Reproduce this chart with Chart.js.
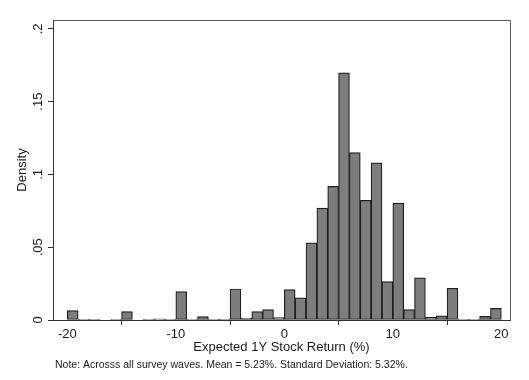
<!DOCTYPE html>
<html>
<head>
<meta charset="utf-8">
<script src="https://cdn.jsdelivr.net/npm/chart.js@4.4.1/dist/chart.umd.min.js"></script>
<style>
  html, body { margin: 0; padding: 0; background: #ffffff; }
  #wrap { width: 529px; height: 380px; position: relative; }
</style>
</head>
<body>
<div id="wrap"><canvas id="c"></canvas></div>
<script>
// ---- data ----
const binStarts = [-20,-19,-18,-17,-16,-15,-14,-13,-12,-11,-10,-9,-8,-7,-6,-5,-4,-3,-2,-1,
                   0,1,2,3,4,5,6,7,8,9,10,11,12,13,14,15,16,17,18,19];
const density = [0.0065,0.0004,0.0004,0,0.0004,0.0057,0,0.0004,0.0008,0.0004,
                 0.0195,0.0004,0.0023,0.0003,0.0006,0.0213,0.0014,0.0057,0.0071,0.0016,
                 0.0209,0.0152,0.0530,0.0769,0.0918,0.1698,0.1150,0.0822,0.1079,0.0264,
                 0.0803,0.0071,0.0289,0.0018,0.0028,0.0218,0.0004,0.0004,0.0025,0.0080];
const binWidth = 1;
const xTicks = [-20, -10, 0, 10, 20];
const yTicks = [0, 0.05, 0.1, 0.15, 0.2];
const yTickLabels = ['0', '.05', '.1', '.15', '.2'];
const xTitle = 'Expected 1Y Stock Return (%)';
const yTitle = 'Density';
const note = 'Note: Acrosss all survey waves. Mean = 5.23%. Standard Deviation: 5.32%.';

const FONT = '"Liberation Sans", Arial, Helvetica, sans-serif';

const framePlugin = {
  id: 'frame',
  afterDraw(chart) {
    const {ctx, chartArea: a, scales} = chart;
    ctx.save();
    // frame top & right
    ctx.strokeStyle = '#5a5a5a';
    ctx.lineWidth = 1;
    ctx.beginPath();
    ctx.moveTo(Math.round(a.left) + 0.5, Math.round(a.top) + 0.5);
    ctx.lineTo(Math.round(a.right) + 0.5, Math.round(a.top) + 0.5);
    ctx.lineTo(Math.round(a.right) + 0.5, Math.round(a.bottom) + 0.5);
    ctx.stroke();
    // rotated y tick labels
    const ys = scales.y;
    ctx.fillStyle = '#1a1a1a';
    ctx.font = '13px ' + FONT;
    ctx.textAlign = 'center';
    ctx.textBaseline = 'middle';
    yTicks.forEach((v, i) => {
      const py = ys.getPixelForValue(v);
      ctx.save();
      ctx.translate(38, py);
      ctx.rotate(-Math.PI / 2);
      ctx.fillText(yTickLabels[i], 0, 0);
      ctx.restore();
    });
    // note
    ctx.font = '10.5px ' + FONT;
    ctx.textAlign = 'left';
    ctx.textBaseline = 'alphabetic';
    ctx.fillStyle = '#1a1a1a';
    ctx.fillText(note, 55, 367.5);
    ctx.restore();
  }
};

new Chart(document.getElementById('c'), {
  type: 'bar',
  data: {
    datasets: [{
      data: binStarts.map((s, i) => ({ x: s + binWidth / 2, y: density[i] })),
      backgroundColor: '#7d7d7d',
      borderColor: '#1e1e1e',
      borderWidth: 1.2,
      borderSkipped: false,
      barPercentage: 1,
      categoryPercentage: 1
    }]
  },
  options: {
    responsive: true,
    maintainAspectRatio: false,
    animation: false,
    events: [],
    layout: { padding: { top: 20, right: 19, left: 0, bottom: 0 } },
    plugins: { legend: { display: false }, tooltip: { enabled: false } },
    scales: {
      x: {
        type: 'linear',
        min: -21.32,
        max: 20.8,
        offset: false,
        afterBuildTicks: s => { s.ticks = xTicks.map(v => ({ value: v })); },
        afterFit: s => { s.height = 60; },
        grid: { drawOnChartArea: false, drawTicks: true, tickLength: 5, color: '#333' },
        border: { display: true, color: '#333', width: 1 },
        ticks: {
          font: { size: 13, family: FONT },
          color: '#1a1a1a',
          padding: 2,
          maxRotation: 0,
          minRotation: 0,
          callback: v => String(v)
        },
        title: {
          display: true,
          text: xTitle,
          font: { size: 13, family: FONT },
          color: '#1a1a1a',
          padding: { top: 0, bottom: 25 }
        }
      },
      y: {
        min: 0,
        max: 0.2061,
        afterBuildTicks: s => { s.ticks = yTicks.map(v => ({ value: v })); },
        afterFit: s => { s.width = 53; },
        grid: { drawOnChartArea: false, drawTicks: true, tickLength: 5, color: '#333' },
        border: { display: true, color: '#333', width: 1 },
        ticks: { display: false },
        title: {
          display: true,
          text: yTitle,
          font: { size: 13, family: FONT },
          color: '#1a1a1a',
          padding: { top: 15, bottom: 0 }
        }
      }
    }
  },
  plugins: [framePlugin]
});
</script>
</body>
</html>
